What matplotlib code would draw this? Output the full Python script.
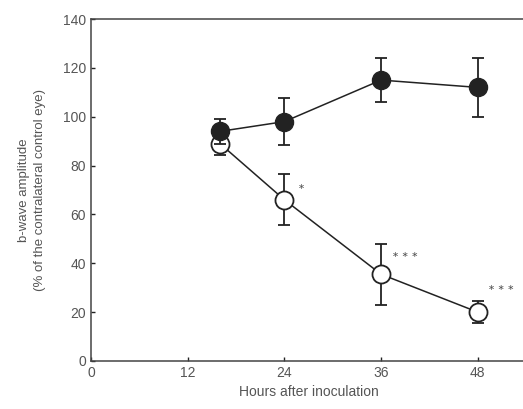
import matplotlib
matplotlib.use('Agg')
import matplotlib.pyplot as plt

# Hours after inoculation
hours = [16, 24, 36, 48]

# Control eye (filled circles)
control_mean = [94, 98, 115, 112]
control_err = [5, 9.5, 9, 12]

# Infected eye (open circles)
infected_mean = [89, 66, 35.5, 20]
infected_err = [4.5, 10.5, 12.5, 4.5]

# Significance marks next to the infected points
sig_labels = ['', '\u2217', '\u2217 \u2217 \u2217', '\u2217 \u2217 \u2217']
sig_dx = [0, 1.7, 1.3, 1.3]
sig_dy = [0, 5.5, 8, 10]

plt.rcParams['font.family'] = ['Liberation Sans', 'DejaVu Sans']
text_color = '#555555'
line_color = '#222222'

fig = plt.figure(figsize=(5.23, 4.09), dpi=100)
ax = fig.add_axes([0.174, 0.1174, 0.832, 0.8361])

ax.errorbar(hours, infected_mean, yerr=infected_err, fmt='-o', color=line_color,
            mfc='white', mec=line_color, mew=1.3, ms=13, lw=1.1,
            elinewidth=1.3, capsize=4, capthick=1.3, zorder=3)
ax.errorbar(hours, control_mean, yerr=control_err, fmt='-o', color=line_color,
            mfc=line_color, mec=line_color, ms=13, lw=1.1,
            elinewidth=1.3, capsize=4, capthick=1.3, zorder=4)

for x, y, s, dx, dy in zip(hours, infected_mean, sig_labels, sig_dx, sig_dy):
    if s:
        ax.text(x + dx, y + dy, s, fontsize=6, color=text_color,
                family='DejaVu Sans', ha='left', va='center')

ax.set_xlim(0, 54)
ax.set_ylim(0, 140)
ax.set_xticks([0, 12, 24, 36, 48])
ax.set_yticks(range(0, 141, 20))
ax.tick_params(direction='in', length=3, colors=line_color,
               labelcolor=text_color, labelsize=10, width=1)
ax.spines['right'].set_visible(False)
for sp in ['left', 'bottom', 'top']:
    ax.spines[sp].set_color('#444444')
    ax.spines[sp].set_linewidth(1.1)

ax.set_xlabel('Hours after inoculation', fontsize=10, color=text_color)
ax.set_ylabel('b-wave amplitude\n(% of the contralateral control eye)',
              fontsize=9.5, color=text_color, labelpad=12, linespacing=1.5)

fig.savefig('out.png', dpi=100)
